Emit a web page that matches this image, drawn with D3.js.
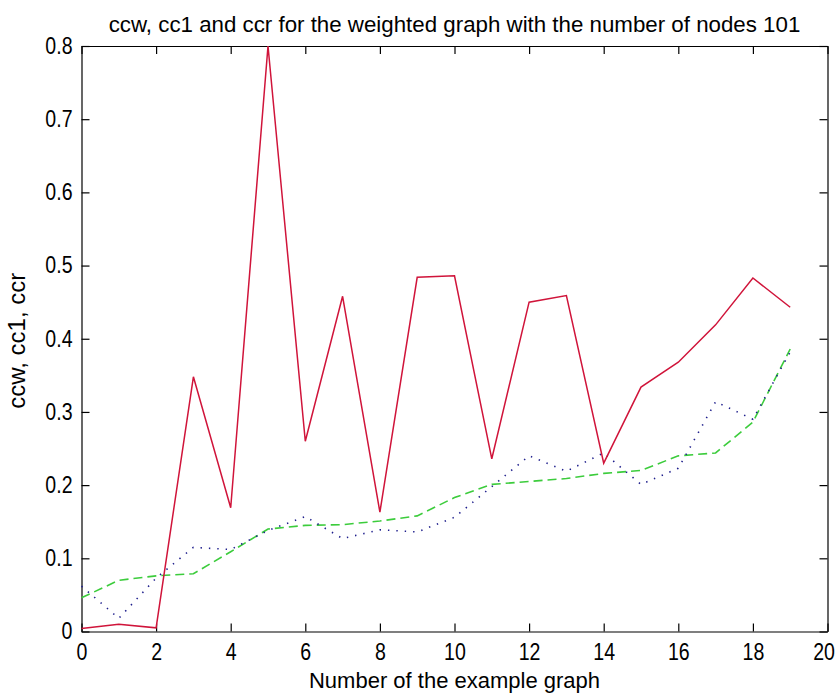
<!DOCTYPE html>
<html>
<head>
<meta charset="utf-8">
<script src="https://cdn.jsdelivr.net/npm/d3@7"></script>
<style>
  body { margin: 0; background: #ffffff; }
  svg { display: block; }
  text { font-family: "Liberation Sans", Arial, Helvetica, sans-serif; fill: #000; }
</style>
</head>
<body>
<svg id="chart" width="837" height="693"></svg>
<script>
// Example graph index (x axis)
const graphNumber = [0, 1, 2, 3, 4, 5, 6, 7, 8, 9, 10, 11, 12, 13, 14, 15, 16, 17, 18, 19];

// ccw — red solid line
const ccw = [0.004, 0.010, 0.005, 0.348, 0.169, 0.800, 0.260, 0.458, 0.163, 0.484,
             0.486, 0.236, 0.450, 0.459, 0.230, 0.334, 0.368, 0.419, 0.483, 0.443];

// cc1 — blue dotted line
const cc1 = [0.062, 0.018, 0.073, 0.115, 0.112, 0.138, 0.157, 0.127, 0.139, 0.136,
             0.156, 0.198, 0.240, 0.219, 0.244, 0.201, 0.223, 0.314, 0.290, 0.382];

// ccr — green dashed line
const ccr = [0.046, 0.070, 0.076, 0.079, 0.109, 0.140, 0.145, 0.146, 0.151, 0.158,
             0.183, 0.201, 0.205, 0.209, 0.216, 0.220, 0.240, 0.244, 0.286, 0.386];

// Axis ticks
const xTicks = [0, 2, 4, 6, 8, 10, 12, 14, 16, 18, 20];
const yTicks = [0, 0.1, 0.2, 0.3, 0.4, 0.5, 0.6, 0.7, 0.8];
const yTickLabels = ["0", "0.1", "0.2", "0.3", "0.4", "0.5", "0.6", "0.7", "0.8"];

const titleText = "ccw, cc1 and ccr for the weighted graph with the number of nodes 101";
const xLabelText = "Number of the example graph";
const yLabelText = "ccw, cc1, ccr";

const width = 837;
const svg = d3.select("#chart");
const plot = { left: 81.5, right: 827.5, top: 46, bottom: 631.5 };

const x = d3.scaleLinear().domain([0, 20]).range([plot.left, plot.right]);
const y = d3.scaleLinear().domain([0, 0.8]).range([plot.bottom, plot.top]);

const tickLen = 8;

// Axes box with inward ticks on all four sides
const bottomAxis = d3.axisBottom(x).tickValues(xTicks).tickFormat(d3.format("d"))
  .tickSizeInner(-tickLen).tickSizeOuter(0).tickPadding(12);
const topAxis = d3.axisTop(x).tickValues(xTicks).tickFormat("")
  .tickSizeInner(-tickLen).tickSizeOuter(0);
const leftAxis = d3.axisLeft(y).tickValues(yTicks).tickFormat((d, i) => yTickLabels[i])
  .tickSizeInner(-tickLen).tickSizeOuter(0).tickPadding(9);
const rightAxis = d3.axisRight(y).tickValues(yTicks).tickFormat("")
  .tickSizeInner(-tickLen).tickSizeOuter(0);

// Tick labels use a slightly narrow face: squeeze each label horizontally
function styleAxis(g) {
  g.selectAll("path.domain").attr("stroke", "#000").attr("stroke-width", 1.2);
  g.selectAll(".tick line").attr("stroke", "#000").attr("stroke-width", 1.2);
  g.selectAll(".tick text")
    .attr("font-size", 23).attr("font-family", null).attr("fill", "#000")
    .each(function () {
      const w = this.getComputedTextLength();
      if (w > 0) {
        d3.select(this).attr("textLength", w * 0.85).attr("lengthAdjust", "spacingAndGlyphs");
      }
    });
}

const xAxisG = svg.append("g").attr("transform", `translate(0,${plot.bottom})`).call(bottomAxis).call(styleAxis);
svg.append("g").attr("transform", `translate(0,${plot.top})`).call(topAxis).call(styleAxis);
svg.append("g").attr("transform", `translate(${plot.left},0)`).call(leftAxis).call(styleAxis);
svg.append("g").attr("transform", `translate(${plot.right},0)`).call(rightAxis).call(styleAxis);

// Keep the last x tick label inside the page edge
xAxisG.selectAll(".tick text").filter(d => d === 20)
  .attr("text-anchor", "end").attr("x", width - plot.right - 2.5);

// Series lines
const line = d3.line().x((d, i) => x(graphNumber[i])).y(d => y(d));

svg.append("path").datum(ccr)
  .attr("fill", "none").attr("stroke", "#3ccc3c").attr("stroke-width", 1.6)
  .attr("stroke-dasharray", "9,5")
  .attr("d", line);

svg.append("path").datum(cc1)
  .attr("fill", "none").attr("stroke", "#1e1e8c").attr("stroke-width", 1.6)
  .attr("stroke-dasharray", "1.4,7")
  .attr("d", line);

svg.append("path").datum(ccw)
  .attr("fill", "none").attr("stroke", "#d0143a").attr("stroke-width", 1.5)
  .attr("d", line);

// Title and axis labels
svg.append("text")
  .attr("x", (plot.left + plot.right) / 2).attr("y", 32)
  .attr("text-anchor", "middle").attr("font-size", 22.3)
  .text(titleText);

svg.append("text")
  .attr("x", (plot.left + plot.right) / 2).attr("y", 688)
  .attr("text-anchor", "middle").attr("font-size", 22)
  .text(xLabelText);

svg.append("text")
  .attr("transform", `translate(25,${(plot.top + plot.bottom) / 2 + 2}) rotate(-90)`)
  .attr("text-anchor", "middle").attr("font-size", 24)
  .text(yLabelText);
</script>
</body>
</html>
